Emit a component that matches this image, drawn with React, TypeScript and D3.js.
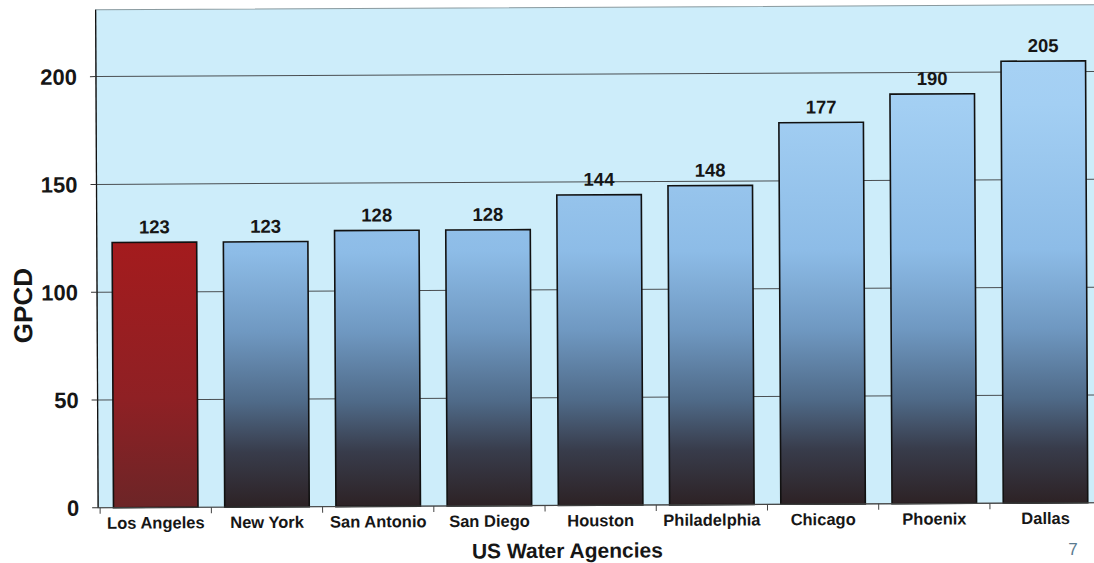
import React from "react";
import * as d3 from "d3";

// Per-capita water use by agency (gallons per capita per day)
const agencies = [
  "Los Angeles",
  "New York",
  "San Antonio",
  "San Diego",
  "Houston",
  "Philadelphia",
  "Chicago",
  "Phoenix",
  "Dallas",
];
const gpcd = [123, 123, 128, 128, 144, 148, 177, 190, 205];
const yTicks = [0, 50, 100, 150, 200];
const highlighted = "Los Angeles";

const W = 1094;
const H = 563;
const plot = { left: 97, right: 1100, top: 7.5, bottom: 505.5 };
const FONT = "Arial, 'Liberation Sans', Helvetica, sans-serif";

export default function App() {
  const x = d3
    .scaleBand<string>()
    .domain(agencies)
    .range([plot.left + 2, plot.right])
    .paddingInner(0.24)
    .paddingOuter(0.12);
  const y = d3.scaleLinear().domain([0, 231]).range([plot.bottom, plot.top]);

  const step = x.step();
  const bandStarts = agencies.map((_, i) => x.range()[0] + i * step);

  return (
    <svg
      width={W}
      height={H}
      viewBox={`0 0 ${W} ${H}`}
      style={{ position: "absolute", left: 0, top: 0, background: "#ffffff" }}
    >
      <defs>
        <linearGradient
          id="blueBar"
          gradientUnits="userSpaceOnUse"
          x1="0"
          y1={y(231)}
          x2="0"
          y2={y(0)}
        >
          <stop offset="0" stopColor="#abd4f5" />
          <stop offset="0.2" stopColor="#a3cff3" />
          <stop offset="0.49" stopColor="#8dbce7" />
          <stop offset="0.65" stopColor="#6f98c1" />
          <stop offset="0.79" stopColor="#4f6a88" />
          <stop offset="0.89" stopColor="#383c4b" />
          <stop offset="1" stopColor="#2d2225" />
        </linearGradient>
        <linearGradient
          id="redBar"
          gradientUnits="userSpaceOnUse"
          x1="0"
          y1={y(231)}
          x2="0"
          y2={y(0)}
        >
          <stop offset="0.45" stopColor="#a51b1d" />
          <stop offset="0.78" stopColor="#8f2024" />
          <stop offset="1" stopColor="#6c2527" />
        </linearGradient>
      </defs>

      <g transform={`rotate(-0.29, ${W / 2}, ${H / 2})`}>
        {/* plot background */}
        <rect
          x={plot.left}
          y={plot.top}
          width={W - plot.left + 20}
          height={plot.bottom - plot.top}
          fill="#cdedfa"
          stroke="#8a9a9f"
          strokeWidth={1}
        />

        {/* horizontal gridlines */}
        {yTicks
          .filter((t) => t > 0)
          .map((t) => (
            <line
              key={`g${t}`}
              x1={plot.left}
              x2={W + 20}
              y1={y(t)}
              y2={y(t)}
              stroke="#4a4f52"
              strokeWidth={1}
            />
          ))}

        {/* bars */}
        {agencies.map((a, i) => (
          <rect
            key={a}
            x={x(a)}
            y={y(gpcd[i])}
            width={x.bandwidth()}
            height={y(0) - y(gpcd[i])}
            fill={a === highlighted ? "url(#redBar)" : "url(#blueBar)"}
            stroke="#111111"
            strokeWidth={1.6}
          />
        ))}

        {/* value labels */}
        {agencies.map((a, i) => (
          <text
            key={`v${a}`}
            x={(x(a) as number) + x.bandwidth() / 2}
            y={y(gpcd[i]) - 9}
            textAnchor="middle"
            fontFamily={FONT}
            fontWeight="bold"
            fontSize={18.5}
            fill="#161616"
          >
            {gpcd[i]}
          </text>
        ))}

        {/* y axis */}
        <line
          x1={plot.left}
          x2={plot.left}
          y1={plot.top}
          y2={plot.bottom}
          stroke="#111111"
          strokeWidth={1.3}
        />
        {yTicks.map((t) => (
          <g key={`t${t}`}>
            <line
              x1={plot.left - 6}
              x2={plot.left}
              y1={y(t)}
              y2={y(t)}
              stroke="#333"
              strokeWidth={1}
            />
            <text
              x={plot.left - 19}
              y={y(t)}
              dy="0.36em"
              textAnchor="end"
              fontFamily={FONT}
              fontWeight="bold"
              fontSize={22}
              fill="#161616"
            >
              {t}
            </text>
          </g>
        ))}

        {/* x axis */}
        <line
          x1={plot.left}
          x2={W + 20}
          y1={plot.bottom}
          y2={plot.bottom}
          stroke="#444"
          strokeWidth={1.2}
        />
        {bandStarts.map((bx, i) => (
          <line
            key={`xt${i}`}
            x1={bx}
            x2={bx}
            y1={plot.bottom}
            y2={plot.bottom + 6}
            stroke="#444"
            strokeWidth={1}
          />
        ))}
        {agencies.map((a) => (
          <text
            key={`xl${a}`}
            x={(x(a) as number) + x.bandwidth() / 2}
            y={plot.bottom + 21}
            textAnchor="middle"
            fontFamily={FONT}
            fontWeight="bold"
            fontSize={16.5}
            fill="#161616"
          >
            {a}
          </text>
        ))}

        {/* axis titles */}
        <text
          transform={`translate(32, ${303}) rotate(-90)`}
          textAnchor="middle"
          fontFamily={FONT}
          fontWeight="bold"
          fontSize={26}
          fill="#161616"
        >
          GPCD
        </text>
        <text
          x={566}
          y={558}
          textAnchor="middle"
          fontFamily={FONT}
          fontWeight="bold"
          fontSize={21}
          fill="#161616"
        >
          US Water Agencies
        </text>
      </g>

      <text
        x={1073}
        y={555}
        textAnchor="middle"
        fontFamily={FONT}
        fontSize={17}
        fill="#5b7b90"
      >
        7
      </text>
    </svg>
  );
}
